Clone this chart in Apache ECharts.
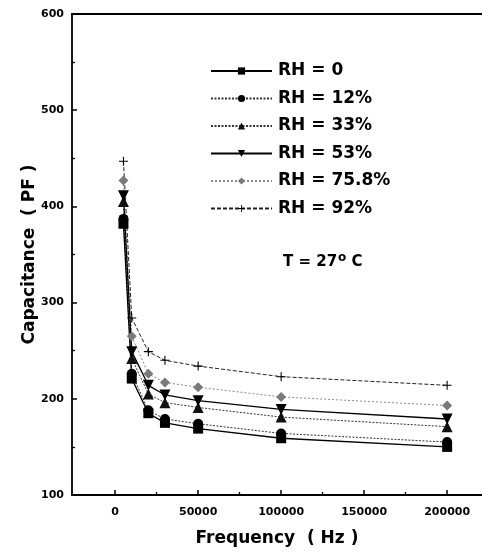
<!DOCTYPE html>
<html>
<head>
<meta charset="utf-8">
<script src="https://cdn.jsdelivr.net/npm/echarts@6/dist/echarts.min.js"></script>
<style>
  html, body { margin: 0; padding: 0; background: #fff; }
  #chart { width: 482px; height: 552px; }
</style>
</head>
<body>
<div id="chart"></div>
<script>
// Measurement frequencies (Hz)
const frequencies = [5000, 10000, 20000, 30000, 50000, 100000, 200000];

// Capacitance (pF) at each relative humidity
const rh0   = [382, 221, 185, 175, 169, 159, 150];
const rh12  = [387, 226, 188, 179, 174, 164, 155];
const rh33  = [405, 242, 205, 196, 191, 181, 171];
const rh53  = [411, 249, 214, 204, 198, 189, 179];
const rh758 = [427, 265, 226, 217, 212, 202, 193];
const rh92  = [447, 284, 249, 240, 234, 223, 214];

const seriesNames = ['RH = 0', 'RH = 12%', 'RH = 33%', 'RH = 53%', 'RH = 75.8%', 'RH = 92%'];

const xMajorTicks = [0, 50000, 100000, 150000, 200000];
const xMinorTicks = [25000, 75000, 125000, 175000];

const FONT = 'DejaVu Sans';

const plusPath = 'path://M4.4,0 L5.6,0 L5.6,4.4 L10,4.4 L10,5.6 L5.6,5.6 L5.6,10 L4.4,10 L4.4,5.6 L0,5.6 L0,4.4 L4.4,4.4 Z';
const downTriPath = 'path://M0,0 L10,0 L5,9 Z';

function pairs(ys) {
  return frequencies.map((f, i) => [f, ys[i]]);
}

function lineSeries(name, ys, symbol, size, color, lineType, lineWidth, lineColor) {
  return {
    name: name,
    type: 'line',
    data: pairs(ys),
    symbol: symbol,
    symbolSize: size,
    showAllSymbol: true,
    itemStyle: { color: color, borderWidth: 0 },
    lineStyle: { color: lineColor || '#000', width: lineWidth, type: lineType },
    emphasis: { disabled: true },
    animation: false
  };
}

const chart = echarts.init(document.getElementById('chart'), null, { renderer: 'canvas' });

chart.setOption({
  backgroundColor: '#fff',
  animation: false,
  grid: { left: 72, right: 0, top: 14, bottom: 50, containLabel: false },
  legend: {
    orient: 'vertical',
    left: 205,
    top: 56,
    itemWidth: 61,
    itemHeight: 9,
    itemGap: 7.5,
    selectedMode: false,
    data: seriesNames,
    textStyle: {
      fontFamily: FONT, fontWeight: 'bold', fontSize: 17, color: '#000',
      lineHeight: 20, padding: [0, 0, 0, 1]
    }
  },
  xAxis: [
    {
      type: 'value', min: -26000, max: 221000, position: 'bottom',
      axisLine: { show: true, onZero: false, lineStyle: { color: '#000', width: 1.8 } },
      axisTick: { show: true, inside: true, length: 5, customValues: xMajorTicks, lineStyle: { color: '#000', width: 1.5 } },
      axisLabel: {
        customValues: xMajorTicks, margin: 12,
        formatter: (v) => String(v),
        fontFamily: FONT, fontWeight: 'bold', fontSize: 11, color: '#000'
      },
      splitLine: { show: false },
      name: 'Frequency  ( Hz )', nameLocation: 'middle', nameGap: 35,
      nameTextStyle: { fontFamily: FONT, fontWeight: 'bold', fontSize: 17, color: '#000' }
    },
    {
      type: 'value', min: -26000, max: 221000, position: 'bottom',
      axisLine: { show: false, onZero: false },
      axisTick: { show: true, inside: true, length: 3, customValues: xMinorTicks, lineStyle: { color: '#000', width: 1.3 } },
      axisLabel: { show: false },
      splitLine: { show: false }
    },
    {
      type: 'value', min: -26000, max: 221000, position: 'top',
      axisLine: { show: true, onZero: false, lineStyle: { color: '#000', width: 1.8 } },
      axisTick: { show: false },
      axisLabel: { show: false },
      splitLine: { show: false }
    }
  ],
  yAxis: {
    type: 'value', min: 100, max: 600, interval: 100,
    axisLine: { show: true, onZero: false, lineStyle: { color: '#000', width: 1.8 } },
    axisTick: { show: true, inside: true, length: 5, lineStyle: { color: '#000', width: 1.5 } },
    minorTick: { show: true, splitNumber: 2, length: 3, lineStyle: { color: '#000', width: 1.3 } },
    axisLabel: { margin: 8, fontFamily: FONT, fontWeight: 'bold', fontSize: 11, color: '#000' },
    splitLine: { show: false },
    name: 'Capacitance  ( PF )', nameLocation: 'middle', nameGap: 34, nameRotate: 90,
    nameMoveOverlap: false,
    nameTextStyle: { fontFamily: FONT, fontWeight: 'bold', fontSize: 17, color: '#000' }
  },
  graphic: [
    {
      type: 'text', left: 283, top: 252,
      style: {
        text: '{a|T = 27}{o|o}{a| C}',
        rich: {
          a: { fontFamily: FONT, fontWeight: 'bold', fontSize: 15, lineHeight: 20, fill: '#000', color: '#000' },
          o: { fontFamily: FONT, fontWeight: 'bold', fontSize: 12, lineHeight: 20, verticalAlign: 'top', fill: '#000', color: '#000', padding: [0, 0, 0, 1] }
        }
      }
    }
  ],
  series: [
    lineSeries(seriesNames[5], rh92, plusPath, 9, '#000', [4, 2], 1, '#222'),
    lineSeries(seriesNames[4], rh758, 'diamond', 10, '#7a7a7a', [2, 2], 1, '#8a8a8a'),
    lineSeries(seriesNames[2], rh33, 'triangle', 11, '#111', [2, 1.5], 1, '#333'),
    lineSeries(seriesNames[3], rh53, downTriPath, 11, '#000', 'solid', 1.3),
    lineSeries(seriesNames[1], rh12, 'circle', 10, '#000', [2, 1.5], 1, '#333'),
    lineSeries(seriesNames[0], rh0, 'rect', 10, '#000', 'solid', 1.3)
  ]
});
</script>
</body>
</html>
